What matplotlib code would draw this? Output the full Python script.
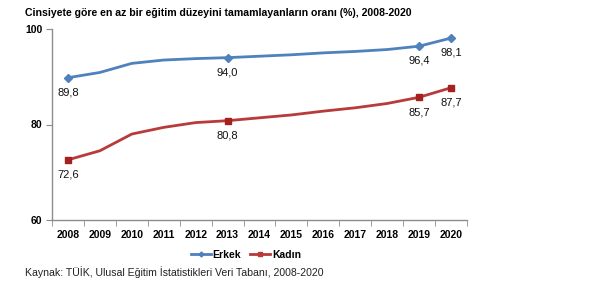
import matplotlib
matplotlib.use('Agg')
from matplotlib import pyplot as plt
from matplotlib.lines import Line2D

years = list(range(2008, 2021))
erkek = [89.8, 90.9, 92.8, 93.5, 93.8, 94.0, 94.3, 94.6, 95.0, 95.3, 95.7, 96.4, 98.1]
kadin = [72.6, 74.5, 78.0, 79.4, 80.4, 80.8, 81.4, 82.0, 82.8, 83.5, 84.4, 85.7, 87.7]
labeled = [2008, 2013, 2019, 2020]
title = 'Cinsiyete göre en az bir eğitim düzeyini tamamlayanların oranı (%), 2008-2020'
source = 'Kaynak: TÜİK, Ulusal Eğitim İstatistikleri Veri Tabanı, 2008-2020'

blue = '#4F81BD'
red = '#B83A3A'
gray = '#8C8C8C'

plt.rcParams['font.family'] = ['Liberation Sans', 'DejaVu Sans']

fig = plt.figure(figsize=(6, 2.83), dpi=100)
ax = fig.add_axes([52 / 600, 1 - 220 / 283, 415 / 600, 191 / 283])

x = list(range(len(years)))
ax.plot(x, erkek, color=blue, lw=2)
ax.plot(x, kadin, color=red, lw=2)
idx = [years.index(y) for y in labeled]
ax.plot(idx, [erkek[i] for i in idx], ls='none', marker='D', ms=4.5, color=blue)
ax.plot(idx, [kadin[i] for i in idx], ls='none', marker='s', ms=4.5, color='#A52020')

for i in idx:
    ax.annotate(f'{erkek[i]:.1f}'.replace('.', ','), (i, erkek[i]), xytext=(0, -7),
                textcoords='offset points', ha='center', va='top', fontsize=8, color='#111111')
    ax.annotate(f'{kadin[i]:.1f}'.replace('.', ','), (i, kadin[i]), xytext=(0, -7),
                textcoords='offset points', ha='center', va='top', fontsize=8, color='#111111')

ax.set_xlim(-0.5, len(years) - 0.5)
ax.set_ylim(60, 100)
ax.set_yticks([60, 80, 100])
ax.set_yticklabels(['60', '80', '100'], fontsize=7.5, fontweight='bold')
ax.set_xticks(x)
ax.set_xticklabels([str(y) for y in years], fontsize=7.5, fontweight='bold')
ax.set_xticks([i - 0.5 for i in range(len(years) + 1)], minor=True)
ax.tick_params(axis='x', which='major', length=0, pad=7)
ax.tick_params(axis='x', which='minor', length=4, color=gray, direction='out')
ax.tick_params(axis='y', length=4, color=gray, direction='out', pad=3)

for s in ['top', 'right']:
    ax.spines[s].set_visible(False)
for s in ['left', 'bottom']:
    ax.spines[s].set_color(gray)
    ax.spines[s].set_linewidth(1)

handles = [Line2D([], [], color=blue, lw=2, marker='D', ms=2.5),
           Line2D([], [], color=red, lw=2, marker='s', ms=2.5)]
leg = fig.legend(handles, ['Erkek', 'Kadın'], loc='center', bbox_to_anchor=(246 / 600, 1 - 255 / 283),
                 ncol=2, frameon=False, handlelength=1.9, handletextpad=0.15,
                 columnspacing=0.9, prop={'weight': 'bold', 'size': 7.5})

fig.text(25 / 600, 1 - 13 / 283, title, fontsize=7.6, fontweight='bold', va='center', ha='left')
fig.text(25 / 600, 1 - 272 / 283, source, fontsize=7.6, va='center', ha='left', color='#222222')

plt.savefig('out.png', dpi=100)
